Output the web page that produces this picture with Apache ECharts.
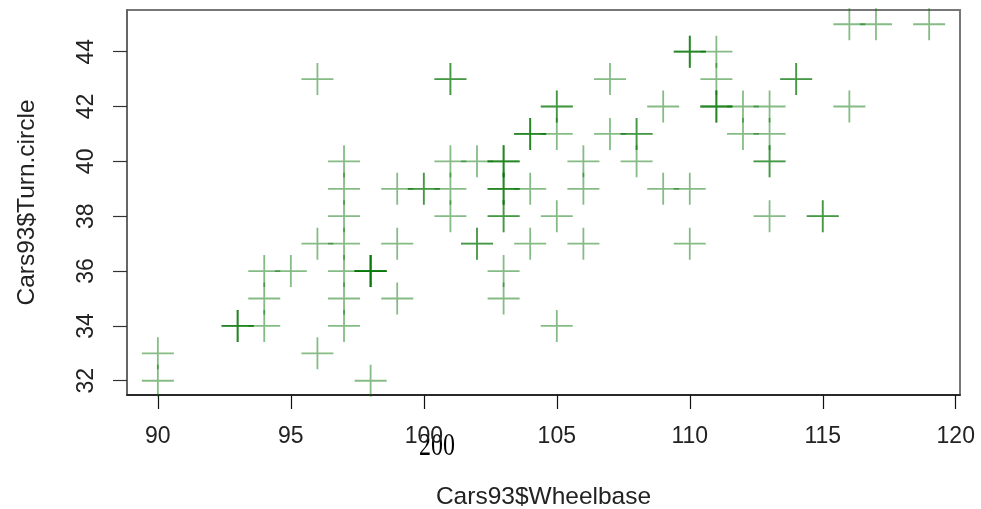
<!DOCTYPE html>
<html>
<head>
<meta charset="utf-8">
<script src="https://cdn.jsdelivr.net/npm/echarts@6/dist/echarts.min.js"></script>
<style>
html,body{margin:0;padding:0;background:#fff;}
#c{width:981px;height:509px;}
</style>
</head>
<body>
<div id="c"></div>
<script>
// Cars93: Wheelbase vs Turn.circle (93 cars)
const wheelbase = [102,115,102,106,109,105,111,116,108,114,
  111,101,103,101,108,110,111,116,96,113,
  104,110,98,97,104,112,105,97,98,113,
  90,98,100,101,103,119,106,114,93,97,
  100,103,107,94,98,94,104,113,103,106,
  109,117,97,98,103,110,96,105,110,95,
  113,98,107,96,103,112,104,103,105,110,
  111,97,99,101,101,108,111,99,102,90,
  97,103,93,94,99,103,113,93,115,103,
  97,104,105];
const turnCircle = [37,38,37,37,39,41,42,45,41,43,
  44,38,39,43,40,44,43,42,43,40,
  41,44,32,38,39,42,42,40,36,40,
  33,36,39,40,38,45,40,43,34,37,
  39,36,41,35,36,34,41,42,40,39,
  42,45,34,36,40,39,37,34,37,36,
  38,36,43,33,40,41,41,39,42,44,
  42,39,35,39,43,41,42,37,40,32,
  35,39,34,36,39,38,41,34,38,35,
  36,37,38];
const xTicks = [90,95,100,105,110,115,120];
const yTicks = [32,34,36,38,40,42,44];
const xTitle = 'Cars93$Wheelbase';
const yTitle = 'Cars93$Turn.circle';
const strayText = '200';

const points = wheelbase.map((w, i) => [w, turnCircle[i]]);
const xMin = Math.min(...wheelbase), xMax = Math.max(...wheelbase);
const yMin = Math.min(...turnCircle), yMax = Math.max(...turnCircle);
const xPad = (xMax - xMin) * 0.04, yPad = (yMax - yMin) * 0.04;

const chart = echarts.init(document.getElementById('c'), null, {renderer: 'canvas'});
const font = '"Liberation Sans", Arial, sans-serif';
chart.setOption({
  animation: false,
  backgroundColor: '#fff',
  grid: {left: 127, right: 21, top: 10, bottom: 114, show: true, containLabel: false,
         outerBoundsMode: 'none',
         borderColor: '#777', borderWidth: 2, backgroundColor: 'transparent'},
  xAxis: {
    type: 'value', min: xMin - xPad, max: xMax + xPad,
    name: xTitle, nameLocation: 'middle', nameGap: 90,
    nameTextStyle: {fontFamily: font, fontSize: 24.5, color: '#222'},
    axisLine: {show: true, onZero: false, lineStyle: {color: '#111', width: 1.5}},
    axisTick: {show: true, length: 14, customValues: xTicks, lineStyle: {color: '#111', width: 1.2}},
    axisLabel: {customValues: xTicks, margin: 30, fontFamily: font, fontSize: 23, color: '#222'},
    splitLine: {show: false}
  },
  yAxis: {
    type: 'value', min: yMin - yPad, max: yMax + yPad,
    name: yTitle, nameLocation: 'middle', nameGap: 87, nameRotate: 90,
    nameTextStyle: {fontFamily: font, fontSize: 24.5, color: '#222'},
    axisLine: {show: true, onZero: false, lineStyle: {color: '#666', width: 2}},
    axisTick: {show: true, length: 14, customValues: yTicks, lineStyle: {color: '#333', width: 1.2}},
    axisLabel: {customValues: yTicks, rotate: 90, margin: 29, fontFamily: font, fontSize: 23, color: '#222'},
    splitLine: {show: false}
  },
  graphic: [{
    type: 'text', x: 437, y: 447, scaleY: 1.3, silent: true,
    style: {text: strayText, font: '24px "Liberation Serif", "DejaVu Serif", serif',
            fill: '#000', textAlign: 'center', textVerticalAlign: 'middle'}
  }],
  series: [{
    type: 'scatter',
    data: points,
    symbol: 'path://M16,0 L16,32 M0,16 L32,16',
    symbolSize: 32,
    itemStyle: {color: 'rgba(0,0,0,0)', borderColor: 'rgba(0,115,0,0.6)', borderWidth: 1.8},
    emphasis: {disabled: true},
    silent: true
  }]
});
</script>
</body>
</html>
